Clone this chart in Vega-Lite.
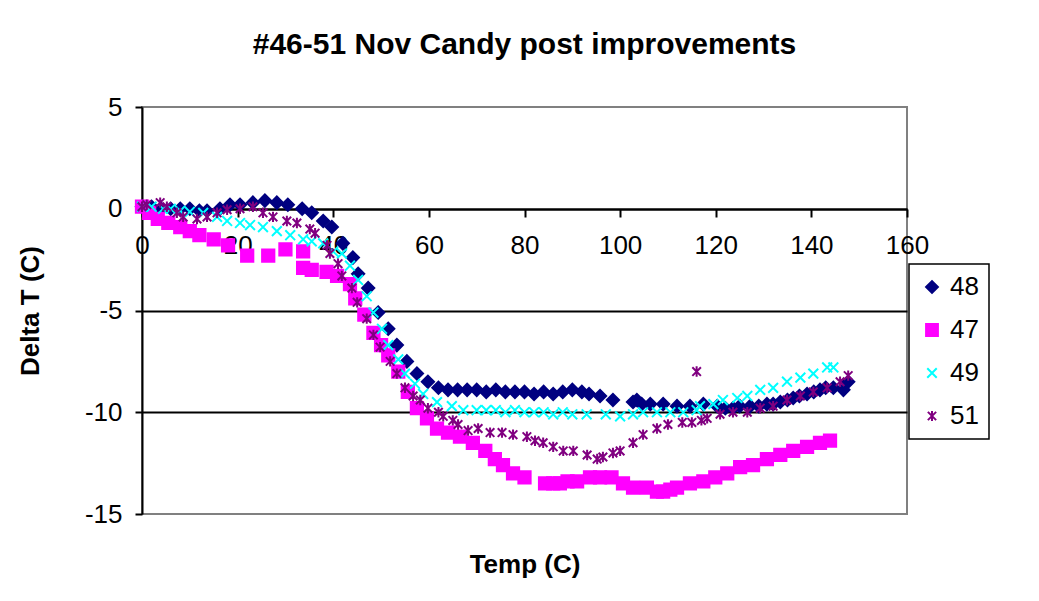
{
  "$schema": "https://vega.github.io/schema/vega-lite/v6.json",
  "width": 765,
  "height": 407,
  "autosize": {"type": "none"},
  "padding": {"left": 142, "top": 107, "right": 132, "bottom": 87},
  "background": "white",
  "title": {"text": "#46-51 Nov Candy post improvements", "fontSize": 30, "fontWeight": "bold", "font": "Liberation Sans", "color": "black", "anchor": "middle", "offset": 34},
  "data": {"values": [
    {"s":"48","t":0,"d":0.1},{"s":"48","t":2,"d":0.1},{"s":"48","t":4,"d":0.0},{"s":"48","t":6,"d":0.0},{"s":"48","t":8,"d":0.0},{"s":"48","t":10,"d":0.0},{"s":"48","t":12,"d":-0.1},{"s":"48","t":13.6,"d":-0.1},{"s":"48","t":16.3,"d":0.0},{"s":"48","t":18.4,"d":0.2},{"s":"48","t":20.5,"d":0.2},{"s":"48","t":23.2,"d":0.3},{"s":"48","t":25.7,"d":0.4},{"s":"48","t":28.2,"d":0.3},{"s":"48","t":30.5,"d":0.2},{"s":"48","t":33.5,"d":0.0},{"s":"48","t":35.5,"d":-0.2},{"s":"48","t":37.9,"d":-0.6},{"s":"48","t":39.7,"d":-0.9},{"s":"48","t":42,"d":-1.7},{"s":"48","t":44.1,"d":-2.4},{"s":"48","t":45.2,"d":-3.2},{"s":"48","t":47.3,"d":-3.9},{"s":"48","t":49.4,"d":-5.1},{"s":"48","t":51.5,"d":-5.9},{"s":"48","t":53.3,"d":-6.7},{"s":"48","t":55.4,"d":-7.5},{"s":"48","t":57.5,"d":-8.1},{"s":"48","t":59.8,"d":-8.5},{"s":"48","t":62,"d":-8.8},{"s":"48","t":64,"d":-8.9},{"s":"48","t":66,"d":-8.9},{"s":"48","t":68,"d":-8.9},{"s":"48","t":70,"d":-8.9},{"s":"48","t":72,"d":-9.0},{"s":"48","t":74,"d":-8.9},{"s":"48","t":76,"d":-9.0},{"s":"48","t":78,"d":-9.0},{"s":"48","t":80,"d":-9.0},{"s":"48","t":82,"d":-9.1},{"s":"48","t":84,"d":-9.0},{"s":"48","t":86,"d":-9.1},{"s":"48","t":88,"d":-9.0},{"s":"48","t":90,"d":-8.9},{"s":"48","t":92,"d":-9.0},{"s":"48","t":93.5,"d":-9.1},{"s":"48","t":95.8,"d":-9.2},{"s":"48","t":98.5,"d":-9.4},{"s":"48","t":102.7,"d":-9.5},{"s":"48","t":103.5,"d":-9.4},{"s":"48","t":104.5,"d":-9.6},{"s":"48","t":106.3,"d":-9.6},{"s":"48","t":109,"d":-9.6},{"s":"48","t":111.9,"d":-9.7},{"s":"48","t":114.6,"d":-9.7},{"s":"48","t":117.4,"d":-9.6},{"s":"48","t":120.3,"d":-9.7},{"s":"48","t":122,"d":-9.8},{"s":"48","t":123.6,"d":-9.8},{"s":"48","t":125,"d":-9.7},{"s":"48","t":127.2,"d":-9.7},{"s":"48","t":129,"d":-9.7},{"s":"48","t":130.7,"d":-9.6},{"s":"48","t":132,"d":-9.6},{"s":"48","t":133.5,"d":-9.5},{"s":"48","t":135,"d":-9.4},{"s":"48","t":136.2,"d":-9.3},{"s":"48","t":137.5,"d":-9.2},{"s":"48","t":139.1,"d":-9.1},{"s":"48","t":140.5,"d":-9.0},{"s":"48","t":141.8,"d":-8.9},{"s":"48","t":143,"d":-8.8},{"s":"48","t":144.6,"d":-8.8},{"s":"48","t":146.7,"d":-8.9},{"s":"48","t":147.7,"d":-8.5},
    {"s":"47","t":0,"d":0.1},{"s":"47","t":1.5,"d":-0.2},{"s":"47","t":3.3,"d":-0.5},{"s":"47","t":5.5,"d":-0.7},{"s":"47","t":8,"d":-0.9},{"s":"47","t":10,"d":-1.1},{"s":"47","t":12,"d":-1.3},{"s":"47","t":15,"d":-1.5},{"s":"47","t":18,"d":-1.8},{"s":"47","t":22,"d":-2.3},{"s":"47","t":26.4,"d":-2.3},{"s":"47","t":30,"d":-2.0},{"s":"47","t":33.7,"d":-2.1},{"s":"47","t":33.7,"d":-2.9},{"s":"47","t":35.5,"d":-3.0},{"s":"47","t":38.6,"d":-3.1},{"s":"47","t":40.8,"d":-3.3},{"s":"47","t":43.5,"d":-3.7},{"s":"47","t":44.6,"d":-4.4},{"s":"47","t":46.5,"d":-5.2},{"s":"47","t":48.4,"d":-6.1},{"s":"47","t":50,"d":-6.7},{"s":"47","t":51.5,"d":-7.2},{"s":"47","t":53.6,"d":-8.0},{"s":"47","t":55.6,"d":-9.0},{"s":"47","t":57.5,"d":-9.8},{"s":"47","t":59.6,"d":-10.3},{"s":"47","t":61.7,"d":-10.8},{"s":"47","t":64,"d":-11.0},{"s":"47","t":66.5,"d":-11.2},{"s":"47","t":69.2,"d":-11.5},{"s":"47","t":71.8,"d":-11.9},{"s":"47","t":73.8,"d":-12.3},{"s":"47","t":75.5,"d":-12.6},{"s":"47","t":77.6,"d":-13.0},{"s":"47","t":80,"d":-13.2},{"s":"47","t":84.3,"d":-13.5},{"s":"47","t":86,"d":-13.5},{"s":"47","t":87.4,"d":-13.5},{"s":"47","t":89,"d":-13.4},{"s":"47","t":91,"d":-13.4},{"s":"47","t":93.7,"d":-13.2},{"s":"47","t":95.8,"d":-13.2},{"s":"47","t":98.2,"d":-13.2},{"s":"47","t":100.6,"d":-13.5},{"s":"47","t":102.7,"d":-13.7},{"s":"47","t":105.6,"d":-13.7},{"s":"47","t":107.7,"d":-13.9},{"s":"47","t":109,"d":-13.9},{"s":"47","t":110.5,"d":-13.8},{"s":"47","t":111.9,"d":-13.7},{"s":"47","t":114.6,"d":-13.5},{"s":"47","t":117.4,"d":-13.4},{"s":"47","t":119.9,"d":-13.2},{"s":"47","t":122.4,"d":-13.0},{"s":"47","t":125.1,"d":-12.7},{"s":"47","t":127.8,"d":-12.6},{"s":"47","t":130.7,"d":-12.3},{"s":"47","t":133.5,"d":-12.1},{"s":"47","t":136.2,"d":-11.9},{"s":"47","t":139.1,"d":-11.7},{"s":"47","t":141.8,"d":-11.5},{"s":"47","t":143.9,"d":-11.4},
    {"s":"49","t":0,"d":0.1},{"s":"49","t":2,"d":0.1},{"s":"49","t":4.4,"d":0.0},{"s":"49","t":6,"d":0.0},{"s":"49","t":8,"d":-0.1},{"s":"49","t":10,"d":-0.15},{"s":"49","t":12.8,"d":-0.2},{"s":"49","t":15.7,"d":-0.4},{"s":"49","t":17.8,"d":-0.6},{"s":"49","t":20.5,"d":-0.7},{"s":"49","t":22.6,"d":-0.8},{"s":"49","t":25.3,"d":-0.9},{"s":"49","t":28.2,"d":-1.1},{"s":"49","t":31,"d":-1.3},{"s":"49","t":33.7,"d":-1.5},{"s":"49","t":35.5,"d":-1.6},{"s":"49","t":37.9,"d":-1.7},{"s":"49","t":40,"d":-2.1},{"s":"49","t":41.8,"d":-2.2},{"s":"49","t":43.5,"d":-2.8},{"s":"49","t":45.2,"d":-3.5},{"s":"49","t":47,"d":-4.3},{"s":"49","t":48.4,"d":-5.1},{"s":"49","t":50.2,"d":-5.9},{"s":"49","t":51.5,"d":-6.7},{"s":"49","t":53.6,"d":-7.4},{"s":"49","t":55,"d":-8.1},{"s":"49","t":57.1,"d":-8.6},{"s":"49","t":58.8,"d":-9.1},{"s":"49","t":61.7,"d":-9.5},{"s":"49","t":64.8,"d":-9.7},{"s":"49","t":67.2,"d":-9.9},{"s":"49","t":70,"d":-9.9},{"s":"49","t":72,"d":-9.9},{"s":"49","t":74,"d":-9.9},{"s":"49","t":76,"d":-10.0},{"s":"49","t":78,"d":-9.9},{"s":"49","t":80,"d":-10.0},{"s":"49","t":82,"d":-10.0},{"s":"49","t":84,"d":-10.0},{"s":"49","t":86,"d":-10.1},{"s":"49","t":88,"d":-10.0},{"s":"49","t":90,"d":-10.1},{"s":"49","t":93,"d":-10.1},{"s":"49","t":97,"d":-10.1},{"s":"49","t":100,"d":-10.2},{"s":"49","t":102.7,"d":-10.1},{"s":"49","t":104.8,"d":-10.0},{"s":"49","t":107.7,"d":-10.0},{"s":"49","t":110.5,"d":-10.0},{"s":"49","t":113.2,"d":-10.0},{"s":"49","t":116,"d":-9.9},{"s":"49","t":116.7,"d":-9.7},{"s":"49","t":119.5,"d":-9.6},{"s":"49","t":121.5,"d":-9.4},{"s":"49","t":124.5,"d":-9.3},{"s":"49","t":126.6,"d":-9.2},{"s":"49","t":129.3,"d":-8.9},{"s":"49","t":132,"d":-8.8},{"s":"49","t":134.9,"d":-8.5},{"s":"49","t":137.7,"d":-8.3},{"s":"49","t":140.4,"d":-8.1},{"s":"49","t":143.3,"d":-7.8},{"s":"49","t":144.6,"d":-7.8},
    {"s":"51","t":0,"d":0.1},{"s":"51","t":1,"d":0.2},{"s":"51","t":3.8,"d":0.3},{"s":"51","t":5.2,"d":0.1},{"s":"51","t":7.3,"d":-0.2},{"s":"51","t":8.6,"d":-0.4},{"s":"51","t":11.5,"d":-0.5},{"s":"51","t":13.6,"d":-0.4},{"s":"51","t":15.7,"d":-0.2},{"s":"51","t":17.8,"d":-0.05},{"s":"51","t":20.5,"d":0.0},{"s":"51","t":23.2,"d":0.1},{"s":"51","t":25.3,"d":-0.2},{"s":"51","t":27.4,"d":-0.4},{"s":"51","t":30.3,"d":-0.6},{"s":"51","t":32.4,"d":-0.7},{"s":"51","t":35.1,"d":-1.0},{"s":"51","t":36.2,"d":-1.2},{"s":"51","t":38.7,"d":-1.8},{"s":"51","t":39.3,"d":-2.2},{"s":"51","t":41,"d":-2.7},{"s":"51","t":41.8,"d":-3.3},{"s":"51","t":43.9,"d":-3.9},{"s":"51","t":45,"d":-4.6},{"s":"51","t":47,"d":-5.4},{"s":"51","t":48.4,"d":-6.2},{"s":"51","t":49.8,"d":-6.8},{"s":"51","t":51.9,"d":-7.5},{"s":"51","t":53.3,"d":-8.1},{"s":"51","t":55,"d":-8.8},{"s":"51","t":56.7,"d":-9.2},{"s":"51","t":58.2,"d":-9.4},{"s":"51","t":59.8,"d":-9.8},{"s":"51","t":62,"d":-10.0},{"s":"51","t":63,"d":-10.2},{"s":"51","t":65,"d":-10.4},{"s":"51","t":66.1,"d":-10.6},{"s":"51","t":68.2,"d":-10.9},{"s":"51","t":70.3,"d":-10.8},{"s":"51","t":72.8,"d":-11.0},{"s":"51","t":75.3,"d":-11.0},{"s":"51","t":77.6,"d":-11.1},{"s":"51","t":80.5,"d":-11.2},{"s":"51","t":82.2,"d":-11.4},{"s":"51","t":83.9,"d":-11.5},{"s":"51","t":86,"d":-11.7},{"s":"51","t":88.1,"d":-11.9},{"s":"51","t":90.2,"d":-11.9},{"s":"51","t":93.1,"d":-12.1},{"s":"51","t":95.2,"d":-12.3},{"s":"51","t":96.4,"d":-12.2},{"s":"51","t":98.5,"d":-12.0},{"s":"51","t":100,"d":-11.9},{"s":"51","t":102.7,"d":-11.5},{"s":"51","t":104.8,"d":-11.1},{"s":"51","t":107.7,"d":-10.8},{"s":"51","t":110,"d":-10.6},{"s":"51","t":113,"d":-10.5},{"s":"51","t":115,"d":-10.5},{"s":"51","t":116,"d":-8.0},{"s":"51","t":117,"d":-10.4},{"s":"51","t":118.2,"d":-10.3},{"s":"51","t":120.9,"d":-10.1},{"s":"51","t":123.6,"d":-10.0},{"s":"51","t":126.6,"d":-10.0},{"s":"51","t":129.3,"d":-9.8},{"s":"51","t":132,"d":-9.7},{"s":"51","t":134.9,"d":-9.4},{"s":"51","t":137.7,"d":-9.2},{"s":"51","t":140.4,"d":-9.0},{"s":"51","t":143.3,"d":-8.8},{"s":"51","t":146,"d":-8.5},{"s":"51","t":147.7,"d":-8.2}
  ]},
  "mark": {"type": "point", "filled": true, "size": 150, "strokeWidth": 2, "opacity": 1},
  "encoding": {
    "x": {"field": "t", "type": "quantitative", "scale": {"domain": [0, 160], "nice": false, "zero": false},
      "axis": {"values": [0,20,40,60,80,100,120,140,160], "offset": -305, "grid": false,
        "domainColor": "black", "domainWidth": 2, "tickColor": "black", "tickWidth": 2, "tickSize": 8,
        "labelFontSize": 26, "labelColor": "black", "labelPadding": 15, "labelFlush": false, "labelOverlap": false,
        "title": "Temp (C)", "titleFontSize": 26, "titleFontWeight": "bold", "titleColor": "black",
        "titleY": 355, "titleBaseline": "middle"}},
    "y": {"field": "d", "type": "quantitative", "scale": {"domain": [-15, 5], "nice": false, "zero": false},
      "axis": {"values": [-15,-10,-5,0,5], "labelExpr": "'' + datum.value", "grid": true,
        "gridColor": {"condition": {"test": "datum.value == 5 || datum.value == -15", "value": "transparent"}, "value": "black"},
        "gridWidth": 2, "domainColor": "black", "domainWidth": 2, "tickColor": "black", "tickWidth": 2, "tickSize": 7,
        "labelFontSize": 26, "labelColor": "black", "labelPadding": 13,
        "title": "Delta T (C)", "titleFontSize": 26, "titleFontWeight": "bold", "titleColor": "black",
        "titleX": -112, "titleY": 203.5, "titleAngle": -90, "titleAlign": "center", "titleBaseline": "middle"}},
    "fill": {"field": "s", "type": "nominal",
      "scale": {"domain": ["48","47","49","51"], "range": ["#000080","#FF00FF","transparent","transparent"]},
      "legend": {"title": null}},
    "stroke": {"field": "s", "type": "nominal",
      "scale": {"domain": ["48","47","49","51"], "range": ["#000080","#FF00FF","#00FFFF","#800080"]},
      "legend": {"title": null}},
    "shape": {"field": "s", "type": "nominal",
      "scale": {"domain": ["48","47","49","51"], "range": ["diamond","square","M-0.8,-0.8L0.8,0.8M-0.8,0.8L0.8,-0.8","M-0.7,-0.7L0.7,0.7M-0.7,0.7L0.7,-0.7M0,-0.85L0,0.85"]},
      "legend": {"title": null}}
  },
  "config": {
    "font": "Liberation Sans",
    "view": {"stroke": "#808080", "strokeWidth": 2},
    "legend": {"orient": "none", "legendX": 767, "legendY": 157, "strokeColor": "black", "strokeWidth": 1.5, "fillColor": "white",
      "padding": 10, "rowPadding": 17, "labelFontSize": 26, "labelColor": "black", "labelOffset": 5,
      "symbolSize": 140, "symbolStrokeWidth": 2}
  }
}
